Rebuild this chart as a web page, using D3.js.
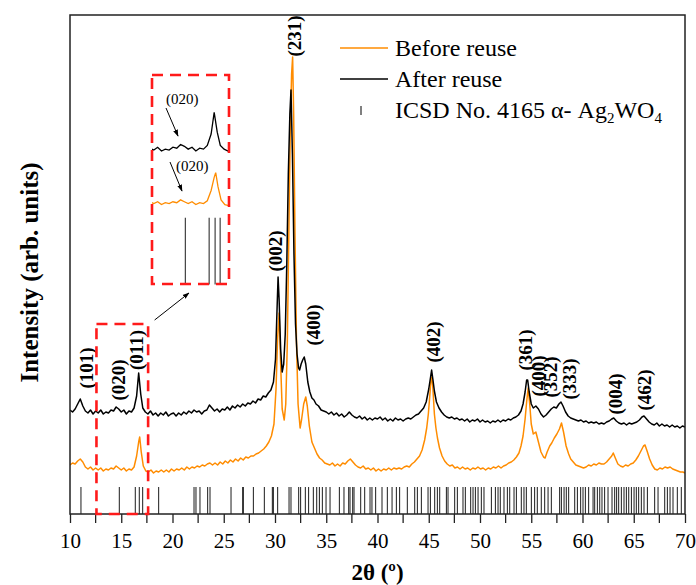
<!DOCTYPE html>
<html>
<head>
<meta charset="utf-8">
<script src="https://cdn.jsdelivr.net/npm/d3@7"></script>
<style>
  body { margin: 0; background: #fff; }
  svg text { font-family: "Liberation Serif", "Times New Roman", serif !important; }
</style>
</head>
<body>
<div id="chart"></div>
<script>
// XRD patterns: [2theta, intensity (arb. units)]
const afterReuse = [
  [10.0,104],[10.25,102],[10.5,105],[10.75,110],[11.0,115],[11.25,108],[11.5,103],[11.75,101],
  [12.0,104],[12.25,100],[12.5,103],[12.75,101],[13.0,104],[13.25,100],[13.5,102],[13.75,101],
  [14.0,104],[14.25,103],[14.5,107],[14.75,105],[15.0,102],[15.25,104],[15.5,100],[15.75,103],
  [16.0,102],[16.25,106],[16.5,118],[16.7,141],[16.9,120],[17.1,106],[17.35,102],[17.6,100],
  [17.85,103],[18.1,99],[18.35,101],[18.6,98],[18.85,101],[19.1,99],[19.35,102],[19.6,98],
  [19.85,100],[20.1,101],[20.35,98],[20.6,101],[20.85,99],[21.1,102],[21.35,100],[21.6,103],
  [21.85,101],[22.1,104],[22.35,102],[22.6,103],[22.85,100],[23.1,103],[23.35,104],[23.6,109],
  [23.85,106],[24.1,103],[24.35,105],[24.6,102],[24.85,105],[25.1,104],[25.35,107],[25.6,104],
  [25.85,108],[26.1,106],[26.35,109],[26.6,107],[26.85,110],[27.1,108],[27.35,111],[27.6,110],
  [27.85,113],[28.1,111],[28.35,115],[28.6,114],[28.85,118],[29.1,117],[29.35,121],[29.6,124],
  [29.85,132],[30.05,155],[30.2,205],[30.3,237],[30.4,215],[30.55,165],[30.7,142],[30.85,150],
  [31.0,180],[31.15,250],[31.3,340],[31.45,400],[31.56,424],[31.7,360],[31.85,260],[32.0,190],
  [32.15,160],[32.3,146],[32.4,144],[32.55,150],[32.7,154],[32.85,157],[33.0,150],[33.2,132],
  [33.4,122],[33.6,116],[33.8,114],[34.0,110],[34.25,108],[34.5,104],[34.75,103],[35.0,102],
  [35.25,100],[35.5,102],[35.75,99],[36.0,101],[36.25,98],[36.5,100],[36.75,97],[37.0,99],
  [37.25,102],[37.5,99],[37.75,97],[38.0,96],[38.25,98],[38.5,95],[38.75,97],[39.0,94],
  [39.25,96],[39.5,94],[39.75,96],[40.0,95],[40.25,97],[40.5,94],[40.75,96],[41.0,93],
  [41.25,95],[41.5,93],[41.75,96],[42.0,94],[42.25,95],[42.5,93],[42.75,95],[43.0,96],
  [43.25,95],[43.5,97],[43.75,99],[44.0,100],[44.25,103],[44.5,106],[44.75,112],[45.0,125],
  [45.15,135],[45.28,144],[45.4,135],[45.55,123],[45.75,112],[46.0,106],[46.25,102],[46.5,99],
  [46.75,97],[47.0,96],[47.25,97],[47.5,95],[47.75,96],[48.0,94],[48.25,95],[48.5,93],
  [48.75,95],[49.0,92],[49.25,94],[49.5,93],[49.75,95],[50.0,92],[50.25,94],[50.5,92],
  [50.75,93],[51.0,91],[51.25,93],[51.5,92],[51.75,94],[52.0,92],[52.25,94],[52.5,93],
  [52.75,95],[53.0,94],[53.25,96],[53.5,97],[53.75,99],[54.0,103],[54.2,110],[54.4,122],
  [54.55,134],[54.65,134],[54.8,122],[55.0,110],[55.2,106],[55.45,108],[55.7,105],[55.95,100],
  [56.2,97],[56.45,99],[56.7,102],[56.95,105],[57.2,107],[57.45,106],[57.7,110],[57.9,112],
  [58.1,108],[58.35,102],[58.6,98],[58.85,96],[59.1,95],[59.35,94],[59.6,93],[59.85,94],
  [60.1,92],[60.35,93],[60.6,91],[60.85,92],[61.1,91],[61.35,92],[61.6,90],[61.85,91],
  [62.1,90],[62.35,92],[62.6,93],[62.85,95],[63.05,96],[63.3,93],[63.55,91],[63.8,90],
  [64.05,91],[64.3,89],[64.55,91],[64.8,90],[65.05,91],[65.3,92],[65.55,94],[65.8,97],
  [66.0,98],[66.25,95],[66.5,92],[66.75,90],[67.0,89],[67.25,91],[67.5,88],[67.75,90],
  [68.0,88],[68.25,89],[68.5,87],[68.75,89],[69.0,87],[69.25,88],[69.5,86],[69.75,88],[70.0,87]
];

const beforeReuse = [
  [10.0,49],[10.25,51],[10.5,50],[10.75,53],[11.0,55],[11.25,52],[11.5,47],[11.75,45],
  [12.0,47],[12.25,44],[12.5,46],[12.75,44],[13.0,46],[13.25,43],[13.5,45],[13.75,44],
  [14.0,46],[14.25,45],[14.5,48],[14.75,46],[15.0,44],[15.25,46],[15.5,43],[15.75,45],
  [16.0,44],[16.25,47],[16.5,58],[16.7,72],[16.8,77],[16.95,62],[17.15,48],[17.4,43],
  [17.65,42],[17.9,44],[18.15,41],[18.4,43],[18.65,42],[18.9,44],[19.15,42],[19.4,44],
  [19.65,42],[19.9,45],[20.15,43],[20.4,45],[20.65,44],[20.9,46],[21.15,44],[21.4,47],
  [21.65,45],[21.9,47],[22.15,46],[22.4,48],[22.65,47],[22.9,49],[23.15,48],[23.4,50],
  [23.65,51],[23.9,49],[24.15,51],[24.4,49],[24.65,52],[24.9,50],[25.15,53],[25.4,51],
  [25.65,54],[25.9,52],[26.15,55],[26.4,53],[26.65,56],[26.9,54],[27.15,57],[27.4,56],
  [27.65,58],[27.9,58],[28.15,60],[28.4,61],[28.65,63],[28.9,65],[29.15,68],[29.4,72],
  [29.65,78],[29.9,90],[30.1,125],[30.25,175],[30.4,201],[30.55,150],[30.7,105],[30.9,94],
  [31.05,110],[31.2,170],[31.35,280],[31.5,390],[31.62,440],[31.72,457],[31.82,400],[31.95,280],
  [32.1,170],[32.25,110],[32.45,86],[32.6,95],[32.8,110],[33.0,117],[33.15,108],[33.35,88],
  [33.6,72],[33.85,66],[34.1,60],[34.35,56],[34.6,54],[34.85,51],[35.1,50],[35.35,49],
  [35.6,51],[35.85,48],[36.1,50],[36.35,48],[36.6,51],[36.85,50],[37.1,53],[37.35,55],
  [37.6,52],[37.85,49],[38.1,47],[38.35,46],[38.6,48],[38.85,45],[39.1,46],[39.35,44],
  [39.6,46],[39.85,43],[40.1,45],[40.35,43],[40.6,45],[40.85,44],[41.1,46],[41.35,44],
  [41.6,46],[41.85,45],[42.1,46],[42.35,45],[42.6,47],[42.85,48],[43.1,47],[43.35,50],
  [43.6,52],[43.85,55],[44.1,58],[44.35,64],[44.6,74],[44.8,86],[44.96,100],[45.1,118],
  [45.2,132],[45.3,137],[45.4,126],[45.55,100],[45.7,86],[45.85,76],[46.05,66],[46.3,58],
  [46.55,53],[46.8,50],[47.05,48],[47.3,49],[47.55,46],[47.8,47],[48.05,45],[48.3,47],
  [48.55,45],[48.8,46],[49.05,44],[49.3,46],[49.55,45],[49.8,47],[50.05,45],[50.3,46],
  [50.55,44],[50.8,46],[51.05,45],[51.3,47],[51.55,46],[51.8,48],[52.05,46],[52.3,48],
  [52.55,49],[52.8,51],[53.05,52],[53.3,54],[53.55,57],[53.8,61],[54.0,68],[54.2,78],
  [54.4,95],[54.55,112],[54.7,126],[54.85,110],[55.0,90],[55.2,80],[55.45,82],[55.7,72],
  [55.95,62],[56.2,57],[56.35,56],[56.55,62],[56.8,68],[57.0,71],[57.25,76],[57.5,80],
  [57.75,85],[57.95,91],[58.15,82],[58.4,68],[58.65,60],[58.85,55],[59.1,52],[59.35,49],
  [59.6,48],[59.85,47],[60.1,46],[60.35,47],[60.6,49],[60.85,48],[61.1,50],[61.35,49],
  [61.6,51],[61.85,50],[62.1,50],[62.35,52],[62.6,55],[62.85,58],[63.0,61],[63.2,56],
  [63.45,50],[63.7,48],[63.95,47],[64.2,49],[64.45,48],[64.7,50],[64.95,51],[65.2,54],
  [65.45,58],[65.7,63],[65.95,68],[66.1,69],[66.3,63],[66.55,55],[66.8,49],[67.05,45],
  [67.3,44],[67.55,46],[67.8,45],[68.05,47],[68.3,46],[68.55,47],[68.8,45],[69.05,44],
  [69.3,43],[69.55,42],[69.8,42],[70.0,41]
];

// ICSD No. 4165 reference reflections (2theta)
const icsdPeaks = [
  11.07,14.81,16.37,16.76,17.09,18.65,22.10,22.29,22.68,23.43,23.66,25.71,26.85,26.91,27.89,
  28.96,29.74,29.84,30.26,31.37,31.56,32.31,32.50,32.96,33.28,33.74,34.07,34.33,34.62,34.98,
  35.37,36.28,36.73,37.19,37.32,37.58,37.71,38.36,38.75,39.27,39.46,39.82,40.44,40.96,41.42,
  41.84,42.16,42.91,43.63,43.89,44.28,44.93,45.16,45.58,45.84,46.07,46.72,46.88,47.53,47.79,
  48.34,48.57,49.09,49.32,49.55,49.81,50.13,50.39,51.11,51.50,51.76,51.98,52.34,52.67,52.90,
  53.32,53.55,54.03,54.29,54.52,55.01,55.33,55.59,55.98,56.31,56.64,56.96,57.77,57.94,58.20,
  58.42,58.65,59.24,59.50,59.82,60.05,60.28,60.60,61.03,61.19,61.45,61.68,61.90,62.16,62.49,
  62.88,63.14,63.33,63.53,63.79,64.05,64.28,64.51,64.77,65.03,65.25,65.48,65.74,66.00,66.33,
  67.04,67.37,68.02,68.28,68.54,68.83,69.25,69.64
];

// Miller index labels: [text, 2theta, intensity]
const hklLabels = [
  ["(101)", 11.66, 146], ["(020)", 14.73, 134], ["(011)", 16.54, 164],
  ["(002)", 30.05, 263], ["(231)", 31.95, 478], ["(400)", 33.80, 189],
  ["(402)", 45.46, 172], ["(361)", 54.49, 164], ["(400)", 55.76, 138],
  ["(352)", 56.93, 137], ["(333)", 58.73, 135], ["(004)", 63.22, 120],
  ["(462)", 66.05, 124]
];

const xMajorTicks = [10, 15, 20, 25, 30, 35, 40, 45, 50, 55, 60, 65, 70];
const xMinorTicks = [12.5, 17.5, 22.5, 27.5, 32.5, 37.5, 42.5, 47.5, 52.5, 57.5, 62.5, 67.5];
const insetRange = [12.63, 17.67];

const W = 696, H = 585;
const margin = { top: 15, right: 11, bottom: 71, left: 70 };
const serif = "'Liberation Serif', 'Times New Roman', serif";

const svg = d3.select("#chart").append("svg")
  .attr("width", W).attr("height", H);

const x = d3.scaleLinear().domain([10, 70]).range([margin.left, W - margin.right]);
const y = d3.scaleLinear().domain([0, 499]).range([H - margin.bottom, margin.top]);

const defs = svg.append("defs");
defs.append("clipPath").attr("id", "plot-clip")
  .append("rect")
  .attr("x", x(10)).attr("y", y(499))
  .attr("width", x(70) - x(10)).attr("height", y(0) - y(499));
defs.append("marker").attr("id", "arrow")
  .attr("viewBox", "0 0 10 10").attr("refX", 9).attr("refY", 5)
  .attr("markerWidth", 7).attr("markerHeight", 7).attr("orient", "auto")
  .append("path").attr("d", "M0,1.5 L10,5 L0,8.5 Z").attr("fill", "#000");
defs.append("clipPath").attr("id", "inset-clip")
  .append("rect").attr("x", 152).attr("y", 75).attr("width", 77).attr("height", 210);

const line = d3.line().x(d => x(d[0])).y(d => y(d[1]));

const plot = svg.append("g").attr("clip-path", "url(#plot-clip)");

// reference sticks
plot.append("g").selectAll("line").data(icsdPeaks).join("line")
  .attr("x1", d => x(d)).attr("x2", d => x(d))
  .attr("y1", y(27)).attr("y2", y(0))
  .attr("stroke", "#000").attr("stroke-width", 0.9);

plot.append("path").datum(beforeReuse)
  .attr("fill", "none").attr("stroke", "#ff8c00").attr("stroke-width", 1.5)
  .attr("stroke-linejoin", "round")
  .attr("d", line);
plot.append("path").datum(afterReuse)
  .attr("fill", "none").attr("stroke", "#000").attr("stroke-width", 1.5)
  .attr("stroke-linejoin", "round")
  .attr("d", line);

// frame
svg.append("rect")
  .attr("x", x(10)).attr("y", y(499))
  .attr("width", x(70) - x(10)).attr("height", y(0) - y(499))
  .attr("fill", "none").attr("stroke", "#222").attr("stroke-width", 1.5);

// x axis
const xAxis = svg.append("g").attr("transform", `translate(0,${y(0)})`);
xAxis.call(d3.axisBottom(x).tickValues(xMajorTicks).tickSize(9).tickFormat(d3.format("d")))
  .call(g => g.select(".domain").remove());
xAxis.attr("font-family", serif);
xAxis.selectAll(".tick line").attr("stroke", "#222").attr("stroke-width", 1.3);
xAxis.selectAll(".tick text")
  .style("font-family", serif)
  .attr("font-size", 21).attr("fill", "#000").attr("dy", "1.05em");
xAxis.append("g").selectAll("line").data(xMinorTicks).join("line")
  .attr("x1", d => x(d)).attr("x2", d => x(d)).attr("y1", 0).attr("y2", 9)
  .attr("stroke", "#222").attr("stroke-width", 1.3);

// axis titles
svg.append("text")
  .attr("x", (x(10) + x(70)) / 2).attr("y", 580)
  .attr("text-anchor", "middle").attr("font-size", 23).attr("font-weight", "bold")
  .style("font-family", serif)
  .text("2θ (º)");
svg.append("text")
  .attr("transform", `translate(38,${(y(0) + y(499)) / 2 + 8}) rotate(-90)`)
  .attr("text-anchor", "middle").attr("font-size", 25).attr("font-weight", "bold")
  .style("font-family", serif)
  .text("Intensity (arb. units)");

// Miller indices
svg.append("g").selectAll("text").data(hklLabels).join("text")
  .attr("transform", d => `translate(${x(d[1])},${y(d[2])}) rotate(-90)`)
  .attr("text-anchor", "middle").attr("dy", "0.32em")
  .attr("font-size", 19).attr("font-weight", "bold")
  .style("font-family", serif)
  .text(d => d[0]);

// legend
const legend = svg.append("g").style("font-family", serif);
legend.append("line").attr("x1", 340).attr("x2", 388).attr("y1", 48).attr("y2", 48)
  .attr("stroke", "#ff8c00").attr("stroke-width", 1.3);
legend.append("text").attr("x", 395).attr("y", 56).attr("font-size", 24).text("Before reuse");
legend.append("line").attr("x1", 340).attr("x2", 388).attr("y1", 79).attr("y2", 79)
  .attr("stroke", "#000").attr("stroke-width", 1.3);
legend.append("text").attr("x", 395).attr("y", 87).attr("font-size", 24).text("After reuse");
legend.append("line").attr("x1", 361).attr("x2", 361).attr("y1", 106).attr("y2", 115)
  .attr("stroke", "#000").attr("stroke-width", 1);
const icsd = legend.append("text").attr("x", 395).attr("y", 118).attr("font-size", 24);
icsd.append("tspan").text("ICSD No. 4165 α- Ag");
icsd.append("tspan").attr("font-size", 15).attr("dy", 5).text("2");
icsd.append("tspan").attr("dy", -5).text("WO");
icsd.append("tspan").attr("font-size", 15).attr("dy", 5).text("4");

// zoom box on main plot
svg.append("rect")
  .attr("x", x(insetRange[0]) - 0.5).attr("y", y(190))
  .attr("width", x(insetRange[1]) - x(insetRange[0])).attr("height", y(0) - y(190))
  .attr("fill", "none").attr("stroke", "#ff1a1a").attr("stroke-width", 2.6)
  .attr("stroke-dasharray", "11,7");

svg.append("line")
  .attr("x1", x(insetRange[1]) + 6).attr("y1", y(194))
  .attr("x2", 189).attr("y2", 293)
  .attr("stroke", "#000").attr("stroke-width", 1)
  .attr("marker-end", "url(#arrow)");

// inset
const ix = d3.scaleLinear().domain(insetRange).range([152, 229]);
const iy = d3.scaleLinear().domain([0, 100]).range([245, 151]);
const iline = d3.line().x(d => ix(d[0])).y(d => iy(d[1]));
const inRange = d => d[0] >= insetRange[0] - 0.3 && d[0] <= insetRange[1] + 0.3;

const inset = svg.append("g").attr("clip-path", "url(#inset-clip)");
inset.append("path").datum(afterReuse.filter(inRange))
  .attr("fill", "none").attr("stroke", "#000").attr("stroke-width", 1.3).attr("d", iline);
inset.append("path").datum(beforeReuse.filter(inRange))
  .attr("fill", "none").attr("stroke", "#ff8c00").attr("stroke-width", 1.3).attr("d", iline);
svg.append("g").selectAll("line")
  .data(icsdPeaks.filter(d => d > insetRange[0] && d < insetRange[1])).join("line")
  .attr("x1", d => ix(d)).attr("x2", d => ix(d))
  .attr("y1", iy(29)).attr("y2", iy(-42))
  .attr("stroke", "#000").attr("stroke-width", 0.9);

svg.append("rect")
  .attr("x", 152).attr("y", 75).attr("width", 77).attr("height", 209)
  .attr("fill", "none").attr("stroke", "#ff1a1a").attr("stroke-width", 2.6)
  .attr("stroke-dasharray", "11,7");

const notes = svg.append("g").style("font-family", serif);
notes.append("text").attr("x", 166).attr("y", 104).attr("font-size", 15).text("(020)");
notes.append("line").attr("x1", 166).attr("y1", 108).attr("x2", 178).attr("y2", 136)
  .attr("stroke", "#000").attr("stroke-width", 1).attr("marker-end", "url(#arrow)");
notes.append("text").attr("x", 176).attr("y", 171).attr("font-size", 15).text("(020)");
notes.append("line").attr("x1", 170).attr("y1", 162).attr("x2", 182).attr("y2", 191)
  .attr("stroke", "#000").attr("stroke-width", 1).attr("marker-end", "url(#arrow)");
</script>
</body>
</html>
